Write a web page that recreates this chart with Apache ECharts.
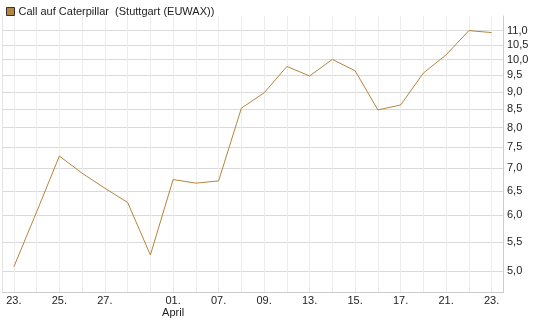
<!DOCTYPE html>
<html>
<head>
<meta charset="utf-8">
<script src="https://cdn.jsdelivr.net/npm/echarts@6/dist/echarts.min.js"></script>
<style>
html, body { margin: 0; padding: 0; background: #fff; }
#chart { width: 545px; height: 327px; }
</style>
</head>
<body>
<div id="chart"></div>
<script>
// trading days 23 Mar - 23 Apr
const dates = ['23.03.', '24.03.', '25.03.', '26.03.', '27.03.', '30.03.', '31.03.',
  '01.04.', '02.04.', '07.04.', '08.04.', '09.04.', '10.04.', '13.04.', '14.04.',
  '15.04.', '16.04.', '17.04.', '20.04.', '21.04.', '22.04.', '23.04.']
const dateLabels = ['23.', '', '25.', '', '27.', '', '', '01.\nApril', '', '07.', '', '09.',
  '', '13.', '', '15.', '', '17.', '', '21.', '', '23.']
const prices = [5.07, 6.07, 7.29, 6.89, 6.56, 6.26, 5.27, 6.75, 6.67, 6.72, 8.53, 8.97,
  9.78, 9.48, 10.01, 9.64, 8.48, 8.62, 9.57, 10.16, 11.0, 10.93]
const yTicks = [5.0, 5.5, 6.0, 6.5, 7.0, 7.5, 8.0, 8.5, 9.0, 9.5, 10.0, 10.5, 11.0]

const font = 'Liberation Sans, Arial, sans-serif'
const lineColor = '#b5843d'

const chart = echarts.init(document.getElementById('chart'))
chart.setOption({
  animation: false,
  textStyle: { fontFamily: font },
  legend: {
    left: 1,
    top: 1,
    itemWidth: 8,
    itemHeight: 8,
    itemGap: 4,
    icon: 'rect',
    textStyle: { fontSize: 11, color: '#222', fontFamily: font, padding: [0, 0, 0, -1] },
    data: [{
      name: 'Call auf Caterpillar  (Stuttgart (EUWAX))',
      itemStyle: { color: lineColor, borderColor: '#333', borderWidth: 1 }
    }]
  },
  grid: {
    left: 2.5,
    right: 42,
    top: 16,
    bottom: 34.5
  },
  xAxis: {
    type: 'category',
    data: dates,
    boundaryGap: true,
    axisLine: { show: true, lineStyle: { color: '#cccccc' } },
    axisTick: { show: false, alignWithLabel: true, interval: 0 },
    splitLine: { show: true, alignWithLabel: true, interval: 0, lineStyle: { color: '#ececec' } },
    axisLabel: {
      interval: 0,
      margin: 2,
      fontSize: 11,
      color: '#222',
      lineHeight: 12,
      fontFamily: font,
      formatter: (v, i) => dateLabels[i]
    }
  },
  yAxis: [{
    type: 'log',
    position: 'right',
    min: 4.66,
    max: 11.54,
    axisLine: { show: true, lineStyle: { color: '#cccccc' } },
    axisTick: { show: false, customValues: yTicks },
    splitLine: { show: true, lineStyle: { color: '#dadada' } },
    axisLabel: {
      customValues: yTicks,
      margin: 4,
      fontSize: 11,
      color: '#222',
      fontFamily: font,
      formatter: v => v.toFixed(1).replace('.', ',')
    }
  }, {
    type: 'value',
    position: 'left',
    axisLine: { show: true, lineStyle: { color: '#e4e4e4' } },
    axisTick: { show: false },
    axisLabel: { show: false },
    splitLine: { show: false }
  }],
  series: [{
    name: 'Call auf Caterpillar  (Stuttgart (EUWAX))',
    type: 'line',
    data: prices,
    yAxisIndex: 0,
    showSymbol: false,
    symbol: 'none',
    lineStyle: { color: lineColor, width: 1 },
    itemStyle: { color: lineColor }
  }]
})
</script>
</body>
</html>
